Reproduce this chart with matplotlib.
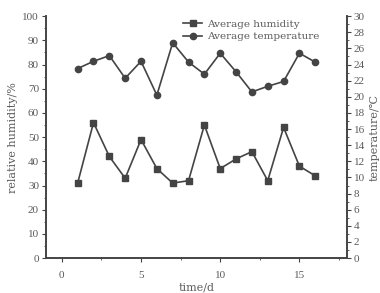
import matplotlib
matplotlib.use('Agg')
import matplotlib.pyplot as plt
from matplotlib.ticker import MultipleLocator

plt.rcParams['font.family'] = ['Liberation Serif', 'DejaVu Serif']

days = [1, 2, 3, 4, 5, 6, 7, 8, 9, 10, 11, 12, 13, 14, 15, 16]
humidity = [31, 56, 42, 33, 49, 37, 31, 32, 55, 37, 41, 44, 32, 54, 38, 34]
temperature = [23.5, 24.4, 25.1, 22.3, 24.4, 20.2, 26.7, 24.3, 22.8, 25.4, 23.1, 20.6, 21.3, 21.9, 25.4, 24.3]

col = '#444444'
tcol = '#5a5a5a'
lab_font = ['DejaVu Serif']

fig = plt.figure(figsize=(3.8, 2.93), dpi=100)
ax = fig.add_axes([0.121, 0.119, 0.792, 0.826])
ax2 = ax.twinx()

l1, = ax.plot(days, humidity, color=col, lw=1.2, marker='s', ms=4, label='Average humidity')
l2, = ax2.plot(days, temperature, color=col, lw=1.2, marker='o', ms=4.5, label='Average temperature')

ax.set_xlim(-1, 18)
ax.set_ylim(0, 100)
ax2.set_ylim(0, 30)

ax.xaxis.set_major_locator(MultipleLocator(5))
ax.xaxis.set_minor_locator(MultipleLocator(2.5))
ax.yaxis.set_major_locator(MultipleLocator(10))
ax.yaxis.set_minor_locator(MultipleLocator(5))
ax2.yaxis.set_major_locator(MultipleLocator(2))
ax2.yaxis.set_minor_locator(MultipleLocator(1))

for a in (ax, ax2):
    a.spines['top'].set_visible(False)
    for s in a.spines.values():
        s.set_color(col)
        s.set_linewidth(1.2)
    a.tick_params(which='both', direction='out', colors=col, labelsize=8, labelcolor=tcol)
    a.tick_params(which='major', length=3, pad=2)
    a.tick_params(which='minor', length=1.5)
ax.tick_params(axis='x', pad=6)

ax.set_xlabel('time/d', fontsize=8, color=tcol, labelpad=2, family=lab_font)
ax.set_ylabel('relative humidity/%', fontsize=8, color=tcol, labelpad=3, family=lab_font)
ax2.set_ylabel('temperature/\u2103', fontsize=8, color=tcol, labelpad=3, family=lab_font)

ax.legend(handles=[l1, l2], loc='upper left', bbox_to_anchor=(0.425, 1.025), frameon=False,
          prop={'family': lab_font, 'size': 7.5}, handlelength=1.8, handletextpad=0.5,
          labelspacing=0.3, labelcolor=tcol)

fig.savefig('out.png', dpi=100)
